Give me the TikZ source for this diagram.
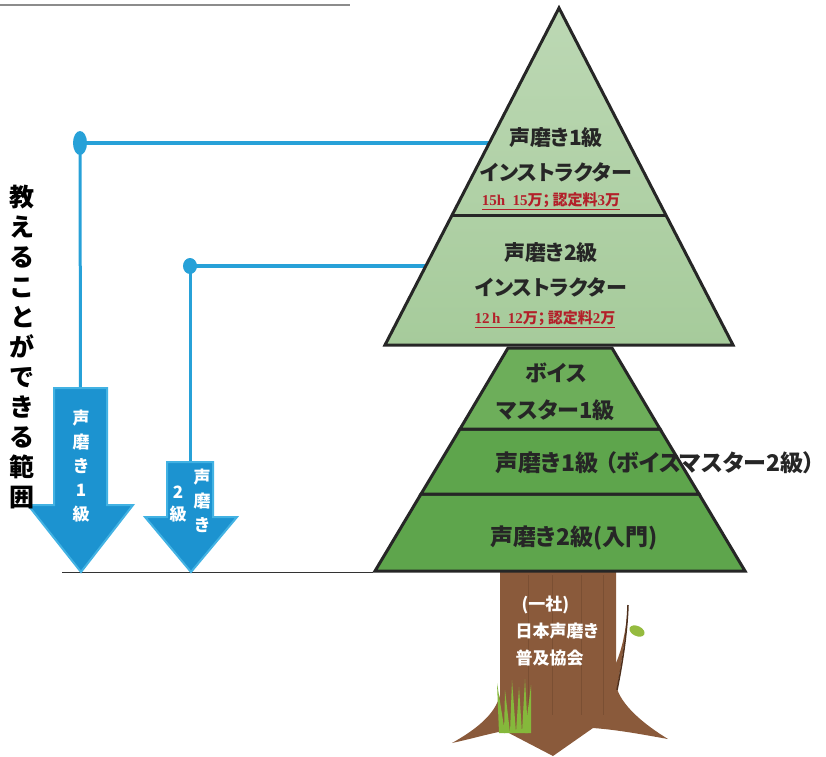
\documentclass[tikz,border=0pt]{standalone}
\usepackage{fontspec}
\setmainfont{Liberation Serif}
\newfontfamily\jpfont{Noto Sans CJK JP}[RawFeature=+palt]
\usepackage{tikz}
\usetikzlibrary{shapes.geometric}
\newcommand\latinpart{\rmfamily\bfseries}
\definecolor{skyblue}{HTML}{27A1D8}
\definecolor{arrowblue}{HTML}{1C93D0}
\definecolor{arrowlight}{HTML}{5CC6EF}
\definecolor{pinetop}{HTML}{A6CB9B}
\definecolor{pinelow}{HTML}{5EA54C}
\definecolor{pinelowlight}{HTML}{6DAE5A}
\definecolor{barkbrown}{HTML}{8A5A3B}
\definecolor{barkdark}{HTML}{4E2F1C}
\definecolor{grasslight}{HTML}{A6D046}
\definecolor{grassdark}{HTML}{6FA833}
\definecolor{labelred}{HTML}{B3202A}

\begin{document}
\begin{tikzpicture}[x=1pt,y=-1pt]
    \tikzstyle{every node} = [font=\jpfont\bfseries]
    \tikzstyle{tier} = [draw=black!85, line width=3pt]
    \tikzstyle{link} = [draw=skyblue, line width=4pt]
    \tikzstyle{knob} = [ellipse, fill=skyblue, inner sep=0pt]
    \tikzstyle{downarrow} = [fill=arrowblue, draw=arrowlight!60!arrowblue, line width=2pt, line join=miter]
    \tikzstyle{title} = [font=\jpfont\bfseries\fontsize{21}{35}\selectfont, align=center, text=black!85]
    \tikzstyle{bigtitle} = [title, font=\jpfont\bfseries\fontsize{23}{37}\selectfont]
    \tikzstyle{fee} = [font=\jpfont\bfseries\fontsize{15}{17}\selectfont, text=labelred]
    \tikzstyle{onarrow} = [font=\jpfont\bfseries\fontsize{17}{24}\selectfont, align=center, text=white]
    \useasboundingbox (0,0) rectangle (826,756);

    % leftover frame line and base line
    \draw[black!45, line width=1.5pt] (0,5) -- (350,5);
    \coordinate (baseL) at (62,572);
    \coordinate (baseR) at (373,572);
    \draw[black!80, line width=1pt] (baseL) -- (baseR);

    % Connections
    \coordinate (tierA) at (500,143);
    \coordinate (tierB) at (440,266);
    \coordinate (arrowAtop) at (80.5,390);
    \coordinate (arrowBtop) at (190,464);
    \node[knob, minimum width=14pt, minimum height=24pt] (knobA) at (80,143) {};
    \node[knob, minimum width=14pt, minimum height=16pt] (knobB) at (190,266) {};
    \draw[link] (knobA.center) -- (tierA);
    \draw[link, line width=3pt] (knobA.center) -- (arrowAtop);
    \draw[link] (knobB.center) -- (tierB);
    \draw[link, line width=3pt] (knobB.center) -- (arrowBtop);

    % trunk
    \path[fill=barkbrown] (500,568) -- (500,695) .. controls (495,715) and (475,730) .. (452,743)
      .. controls (475,738) and (495,732) .. (505,731) -- (553,756) -- (593,728)
      .. controls (620,730) and (645,735) .. (668,739) .. controls (645,725) and (620,705) .. (616,685)
      -- (616,568) -- cycle;
    \foreach \gx in {528,552,581,603}
      \draw[barkdark, opacity=.25, line width=.8pt] (\gx,575) -- (\gx,715);
    \path[fill=barkbrown] (615,700) .. controls (620,670) and (626,640) .. (628,605)
      .. controls (626,635) and (620,655) .. (615,665) -- cycle;
    \draw[barkdark, line width=1.5pt] (617,690) .. controls (622,665) and (627,635) .. (628,605);
    \fill[grasslight!90!black, rotate around={-25:(637,631)}] (637,631) ellipse (8 and 5);
    \foreach \bx/\tx/\ty in {502/497/683,507/505/690,513/512/680,519/519/687,525/525/679,528/531/685}
      \fill[grassdark!60!grasslight] (\bx-3,733) -- (\tx,\ty) -- (\bx+3,733) -- cycle;

    % tree tiers
    \path[tier, fill=pinelow] (421,494) -- (699,494) -- (745,571) -- (375,571) -- cycle;
    \path[tier, fill=pinelow] (460,429) -- (660,429) -- (699,494) -- (421,494) -- cycle;
    \path[tier, fill=pinelowlight] (508,348) -- (612,348) -- (660,429) -- (460,429) -- cycle;
    \path[tier, top color=pinetop!75!white, bottom color=pinetop] (559,8) -- (733,345) -- (385,345) -- cycle;
    \draw[tier] (452,215) -- (666,215);

    % arrows
    \path[downarrow] (54,388) -- (107,388) -- (107,505) -- (133,505) -- (81,572) -- (28,505) -- (54,505) -- cycle;
    \path[downarrow] (167,462) -- (213,462) -- (213,517) -- (237,517) -- (191,572) -- (145,517) -- (167,517) -- cycle;

    % place nodes
    \node[title] (tierAtext) at (556,155) {声磨き1級\\インストラクター};
    \node[fee] (feeA) at (551,201) {\underline{{\latinpart 15h\ \ 15}万；\,認定料{\latinpart 3}万}};
    \node[title] (tierBtext) at (551,270) {声磨き2級\\インストラクター};
    \node[fee] (feeB) at (545,319) {\underline{{\latinpart 12\,h\ \ 12}万；\,認定料{\latinpart 2}万}};
    \node[title, font=\jpfont\bfseries\fontsize{22}{37}\selectfont] (tierCtext) at (556,392) {ボイス\\マスター1級};
    \node[bigtitle, inner sep=1pt] (tierDtext) at (655,463) {声磨き1級\hspace{7pt}（ボイスマスター2級）};
    \node[bigtitle] (tierEtext) at (574,538) {声磨き2級(入門)};
    \node[font=\jpfont\bfseries\fontsize{17}{27}\selectfont, text=white, align=left, anchor=west] (society)
      at (512,631) {\hspace*{6pt}(一社)\\日本声磨き\\普及協会};
    \node[font=\jpfont\bfseries\fontsize{25}{30}\selectfont, align=center] (teachRange)
      at (22,347) {教\\え\\る\\こ\\と\\が\\で\\き\\る\\範\\囲};
    \node[onarrow] (arrowAtext) at (81,466) {声\\磨\\き\\1\\級};
    \node[onarrow] (arrowBright) at (202,501) {声\\磨\\き};
    \node[onarrow, font=\jpfont\bfseries\fontsize{17}{22}\selectfont] (arrowBleft) at (178,504) {2\\級};
\end{tikzpicture}
\end{document}
